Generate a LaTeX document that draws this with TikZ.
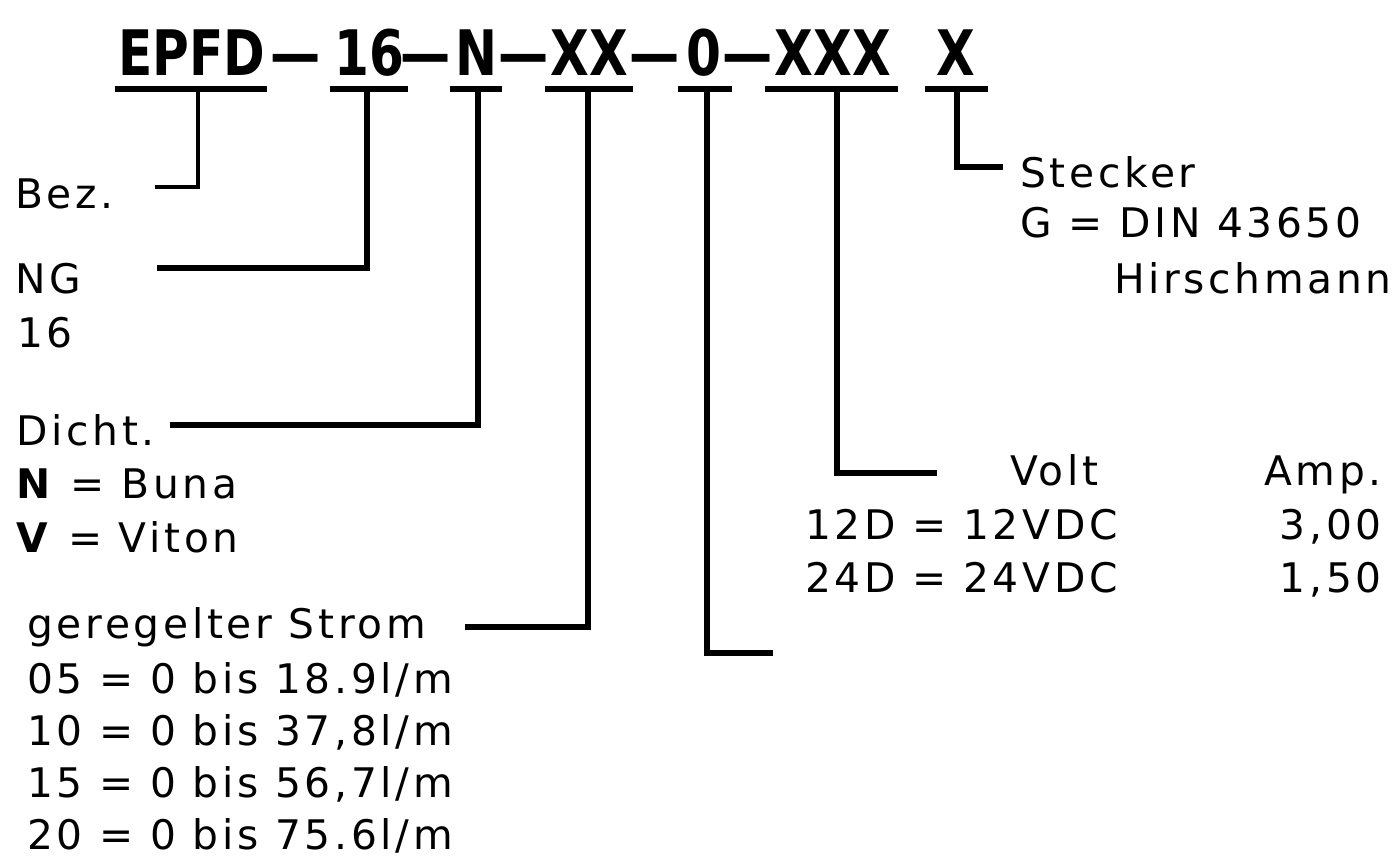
\documentclass[tikz,border=0pt]{standalone}
\usepackage{fontspec}
\setmainfont[LetterSpace=9]{DejaVu Sans}
\newfontfamily\codefont[FakeStretch=0.8]{DejaVu Sans}
\usetikzlibrary{positioning}
\tikzset{
	lbl/.style={anchor=base west, inner sep=0pt, font=\fontsize{23.2pt}{28pt}\selectfont},
	rlbl/.style={lbl, anchor=base east},
	code/.style={anchor=base, inner sep=0pt, font=\codefont\bfseries\fontsize{35.7pt}{40pt}\selectfont},
	uline/.style={line width=3.4pt},
	lead/.style={line width=3.4pt},
	thinlead/.style={line width=2.4pt}
}
\begin{document}
\begin{tikzpicture}[x=0.02cm, y=-0.02cm]
	\useasboundingbox (0,0) rectangle (1395,860);
	\node[code] (c1) at (192,75) {EPFD};
	\node[code] (c2) at (369,75) {16};
	\node[code] (c3) at (476,75) {N};
	\node[code] (c4) at (589,75) {XX};
	\node[code] (c5) at (704,75) {0};
	\node[code] (c6) at (833,75) {XXX};
	\node[code] (c7) at (956,75) {X};
	\foreach \x in {296, 426, 524, 655, 748}
		\node[code] at (\x,75) {—};
	\foreach \a/\b in {115/267, 330/408, 450/502, 545/633, 678/732, 765/898, 925/988}
		\draw[uline] (\a,89) -- (\b,89);

	\node[lbl] (bez) at (15,208) {Bez.};
	\node[lbl] (ng) at (15,293) {NG};
	\node[lbl] (ng16) at (17,347) {16};
	\node[lbl] (dicht) at (16,445) {Dicht.};
	\node[lbl] (buna) at (16,498) {\textbf{N} = Buna};
	\node[lbl] (viton) at (16,552) {\textbf{V} = Viton};
	\node[lbl] (strom) at (27,638) {geregelter Strom};
	\node[lbl] (s05) at (27,693) {05 = 0 bis 18.9l/m};
	\node[lbl] (s10) at (27,745) {10 = 0 bis 37,8l/m};
	\node[lbl] (s15) at (27,797) {15 = 0 bis 56,7l/m};
	\node[lbl] (s20) at (27,849) {20 = 0 bis 75.6l/m};
	\node[lbl] (stecker) at (1020,187) {Stecker};
	\node[lbl] (din) at (1020,237) {G = DIN 43650};
	\node[rlbl] (hirsch) at (1392,293) {Hirschmann};
	\node[lbl] (volt) at (1010,485) {Volt};
	\node[rlbl] (amp) at (1382,485) {Amp.};
	\node[lbl] (v12) at (805,539) {12D = 12VDC};
	\node[rlbl] (a12) at (1382,539) {3,00};
	\node[lbl] (v24) at (805,592) {24D = 24VDC};
	\node[rlbl] (a24) at (1382,592) {1,50};

	\coordinate (u1) at (198,89);
	\coordinate (u2) at (367,89);
	\coordinate (u3) at (478,89);
	\coordinate (u4) at (588,89);
	\coordinate (u5) at (707,89);
	\coordinate (u6) at (837,89);
	\coordinate (u7) at (957,89);
	\coordinate (e1) at (155,187);
	\coordinate (e2) at (157,268);
	\coordinate (e3) at (170,425);
	\coordinate (e4) at (465,627);
	\coordinate (e5) at (773,653);
	\coordinate (e6) at (937,473);
	\coordinate (e7) at (1003,167);
	\draw[thinlead] (u1) |- (e1);
	\draw[lead] (u2) |- (e2);
	\draw[lead] (u3) |- (e3);
	\draw[lead] (u4) |- (e4);
	\draw[lead] (u5) |- (e5);
	\draw[lead] (u6) |- (e6);
	\draw[lead] (u7) |- (e7);
\end{tikzpicture}
\end{document}
